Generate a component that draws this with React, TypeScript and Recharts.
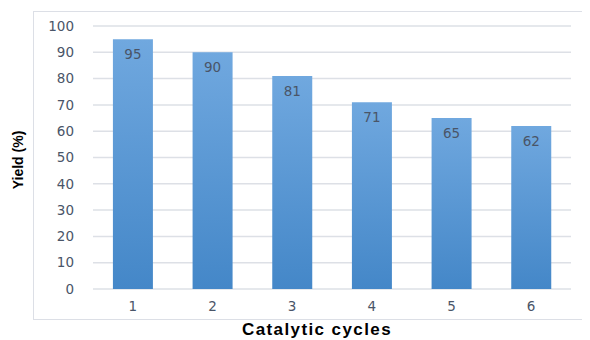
import React from "react";
import { BarChart, Bar, XAxis, YAxis, CartesianGrid, LabelList } from "recharts";

const cycles = ["1", "2", "3", "4", "5", "6"];
const yields = [95, 90, 81, 71, 65, 62];
const yTicks = [0, 10, 20, 30, 40, 50, 60, 70, 80, 90, 100];

const data = cycles.map((c, i) => ({ cycle: c, yield: yields[i] }));

const tickStyle = { fill: "#4A5568", fontSize: 13.5, fontFamily: "DejaVu Sans" };

export default function App() {
  return (
    <div style={{ position: "relative", width: 590, height: 340, marginLeft: -8, marginTop: -8, overflow: "hidden", background: "#fff" }}>
      <div style={{ position: "absolute", left: 33, top: 11, width: 600, height: 309, border: "1.5px solid #DCDFE6", boxSizing: "border-box" }} />
      <div style={{ position: "absolute", left: 0, top: 0 }}>
        <BarChart width={590} height={340} data={data} margin={{ top: 26, right: 19, bottom: 21, left: 0 }} barCategoryGap="25%">
          <defs>
            <linearGradient id="barGrad" x1="0" y1="0" x2="0" y2="1">
              <stop offset="0%" stopColor="#70A8DF" />
              <stop offset="100%" stopColor="#4487C8" />
            </linearGradient>
          </defs>
          <CartesianGrid vertical={false} stroke="#DDE0E6" strokeWidth={1.5} />
          <XAxis dataKey="cycle" axisLine={false} tickLine={false} tickSize={0} tickMargin={12} height={30} tick={tickStyle} />
          <YAxis domain={[0, 100]} ticks={yTicks} axisLine={false} tickLine={false} tickSize={0} tickMargin={19} width={93} tick={tickStyle} interval={0} />
          <Bar dataKey="yield" fill="url(#barGrad)" isAnimationActive={false}>
            <LabelList dataKey="yield" position="insideTop" offset={10} style={{ fill: "#4A5568", fontSize: 13.5, fontFamily: "DejaVu Sans" }} />
          </Bar>
        </BarChart>
      </div>
      <div style={{ position: "absolute", left: 18, top: 160, transform: "translate(-50%, -50%) rotate(-90deg)", fontFamily: "Liberation Sans", fontWeight: "bold", fontSize: 14, color: "#000", whiteSpace: "nowrap" }}>Yield (%)</div>
      <div style={{ position: "absolute", left: 317, top: 330, transform: "translate(-50%, -50%)", fontFamily: "Liberation Sans", fontWeight: "bold", fontSize: 17, color: "#000", whiteSpace: "nowrap", letterSpacing: 1.4 }}>Catalytic cycles</div>
    </div>
  );
}
